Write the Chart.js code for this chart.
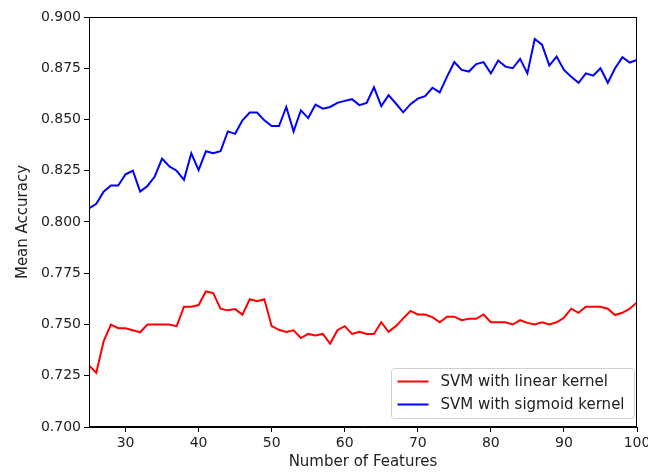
<!DOCTYPE html>
<html>
<head>
<meta charset="utf-8">
<script src="https://cdn.jsdelivr.net/npm/chart.js@4.4.0/dist/chart.umd.min.js"></script>
<style>
  html, body { margin: 0; padding: 0; background: #fff; }
</style>
</head>
<body>
<canvas id="accuracy-chart" width="648" height="473"></canvas>
<script>
const featureCounts = [
  25, 26, 27, 28, 29, 30, 31, 32, 33, 34, 35, 36, 37, 38, 39, 40, 41, 42, 43,
  44, 45, 46, 47, 48, 49, 50, 51, 52, 53, 54, 55, 56, 57, 58, 59, 60, 61, 62,
  63, 64, 65, 66, 67, 68, 69, 70, 71, 72, 73, 74, 75, 76, 77, 78, 79, 80, 81,
  82, 83, 84, 85, 86, 87, 88, 89, 90, 91, 92, 93, 94, 95, 96, 97, 98, 99, 100
];

// SVM with linear kernel
const linearAcc = [
  0.7300, 0.7265, 0.7418, 0.7500, 0.7482, 0.7482, 0.7472, 0.7462, 0.7500, 0.7500,
  0.7500, 0.7500, 0.7492, 0.7587, 0.7587, 0.7595, 0.7661, 0.7653, 0.7577, 0.7569,
  0.7575, 0.7548, 0.7623, 0.7613, 0.7623, 0.7492, 0.7474, 0.7464, 0.7472, 0.7434,
  0.7454, 0.7446, 0.7454, 0.7407, 0.7472, 0.7492, 0.7454, 0.7464, 0.7454, 0.7454,
  0.7511, 0.7464, 0.7492, 0.7530, 0.7566, 0.7549, 0.7549, 0.7536, 0.7511, 0.7538,
  0.7538, 0.7521, 0.7528, 0.7528, 0.7549, 0.7511, 0.7511, 0.7511, 0.7500, 0.7521,
  0.7508, 0.7500, 0.7511, 0.7500, 0.7511, 0.7533, 0.7577, 0.7557, 0.7587, 0.7587,
  0.7587, 0.7577, 0.7546, 0.7557, 0.7577, 0.7607
];

// SVM with sigmoid kernel
const sigmoidAcc = [
  0.8066, 0.8089, 0.8148, 0.8178, 0.8178, 0.8233, 0.8250, 0.8148, 0.8176, 0.8222,
  0.8309, 0.8271, 0.8250, 0.8206, 0.8335, 0.8253, 0.8345, 0.8335, 0.8345, 0.8442,
  0.8430, 0.8496, 0.8534, 0.8534, 0.8496, 0.8468, 0.8468, 0.8561, 0.8442, 0.8545,
  0.8507, 0.8573, 0.8553, 0.8561, 0.8581, 0.8591, 0.8599, 0.8570, 0.8581, 0.8657,
  0.8565, 0.8619, 0.8578, 0.8535, 0.8575, 0.8602, 0.8614, 0.8655, 0.8632, 0.8709,
  0.8780, 0.8742, 0.8734, 0.8770, 0.8780, 0.8725, 0.8788, 0.8758, 0.8750, 0.8796,
  0.8725, 0.8893, 0.8865, 0.8763, 0.8807, 0.8742, 0.8709, 0.8679, 0.8725, 0.8714,
  0.8750, 0.8679, 0.8750, 0.8804, 0.8778, 0.8791
];

const seriesLabels = ['SVM with linear kernel', 'SVM with sigmoid kernel'];
const xTickValues = [30, 40, 50, 60, 70, 80, 90, 100];
const yTickValues = [0.700, 0.725, 0.750, 0.775, 0.800, 0.825, 0.850, 0.875, 0.900];

const FONT = '"DejaVu Sans", sans-serif';
const INK = '#222';

const toPoints = (ys) => featureCounts.map((x, i) => ({ x, y: ys[i] }));

// matplotlib style closed frame around the plot
const frame = {
  id: 'frame',
  afterDraw(chart) {
    const { ctx, chartArea: a } = chart;
    ctx.save();
    ctx.strokeStyle = '#000';
    ctx.lineWidth = 1;
    ctx.strokeRect(Math.round(a.left) + 0.5, Math.round(a.top) + 0.5,
      Math.round(a.right - a.left) - 1, Math.round(a.bottom - a.top) - 1);
    ctx.restore();
  }
};

// legend box in the lower right of the plot area
const boxLegend = {
  id: 'boxLegend',
  afterDraw(chart) {
    const { ctx, chartArea: a } = chart;
    const sets = chart.data.datasets;
    ctx.save();
    ctx.font = '15px ' + FONT;
    const textW = Math.max(...sets.map((d) => ctx.measureText(d.label).width));
    const w = 49 + textW + 10;
    const h = 50;
    const right = a.right - 3;
    const bottom = a.bottom - 9;
    const left = Math.round(right - w) + 0.5;
    const top = Math.round(bottom - h) + 0.5;

    ctx.beginPath();
    ctx.roundRect(left, top, w, h, 3);
    ctx.fillStyle = 'rgba(255,255,255,0.8)';
    ctx.fill();
    ctx.strokeStyle = '#d0d0d0';
    ctx.lineWidth = 1;
    ctx.stroke();

    sets.forEach((d, i) => {
      const y = top + 13 + i * 23;
      ctx.beginPath();
      ctx.moveTo(left + 6, y);
      ctx.lineTo(left + 37, y);
      ctx.strokeStyle = d.borderColor;
      ctx.lineWidth = 2;
      ctx.stroke();
      ctx.fillStyle = INK;
      ctx.textBaseline = 'middle';
      ctx.textAlign = 'left';
      ctx.fillText(d.label, left + 49, y + 1);
    });
    ctx.restore();
  }
};

new Chart(document.getElementById('accuracy-chart'), {
  type: 'line',
  data: {
    datasets: [
      {
        label: seriesLabels[0],
        data: toPoints(linearAcc),
        borderColor: '#ff0000',
        borderWidth: 2,
        pointRadius: 0,
        tension: 0
      },
      {
        label: seriesLabels[1],
        data: toPoints(sigmoidAcc),
        borderColor: '#0000ff',
        borderWidth: 2,
        pointRadius: 0,
        tension: 0
      }
    ]
  },
  options: {
    responsive: false,
    animation: false,
    devicePixelRatio: 1,
    layout: { padding: { top: 17, right: 11, left: 0, bottom: 0 } },
    plugins: {
      legend: { display: false },
      tooltip: { enabled: false }
    },
    scales: {
      x: {
        type: 'linear',
        min: 25,
        max: 100,
        afterBuildTicks(scale) {
          scale.ticks = xTickValues.map((value) => ({ value }));
        },
        afterFit(scale) {
          scale.height = 46;
          // the "100" label may hang past the plot edge, like the reference
          scale.paddingLeft = 0;
          scale.paddingRight = 0;
        },
        border: { display: true, color: '#000', width: 1 },
        grid: { drawOnChartArea: false, drawTicks: true, tickLength: 5, tickColor: '#000' },
        ticks: {
          color: INK,
          font: { family: FONT, size: 14 },
          padding: 3,
          maxRotation: 0,
          callback: (v) => String(v)
        },
        title: {
          display: true,
          text: 'Number of Features',
          color: INK,
          font: { family: FONT, size: 15 },
          padding: { top: 0, bottom: 2 }
        }
      },
      y: {
        min: 0.7,
        max: 0.9,
        afterBuildTicks(scale) {
          scale.ticks = yTickValues.map((value) => ({ value }));
        },
        afterFit(scale) {
          scale.width = 89;
        },
        border: { display: true, color: '#000', width: 1 },
        grid: { drawOnChartArea: false, drawTicks: true, tickLength: 5, tickColor: '#000' },
        ticks: {
          color: INK,
          font: { family: FONT, size: 14 },
          padding: 3,
          callback: (v) => Number(v).toFixed(3)
        },
        title: {
          display: true,
          text: 'Mean Accuracy',
          color: INK,
          font: { family: FONT, size: 15 },
          padding: { top: 14, bottom: 0 }
        }
      }
    }
  },
  plugins: [frame, boxLegend]
});
</script>
</body>
</html>
